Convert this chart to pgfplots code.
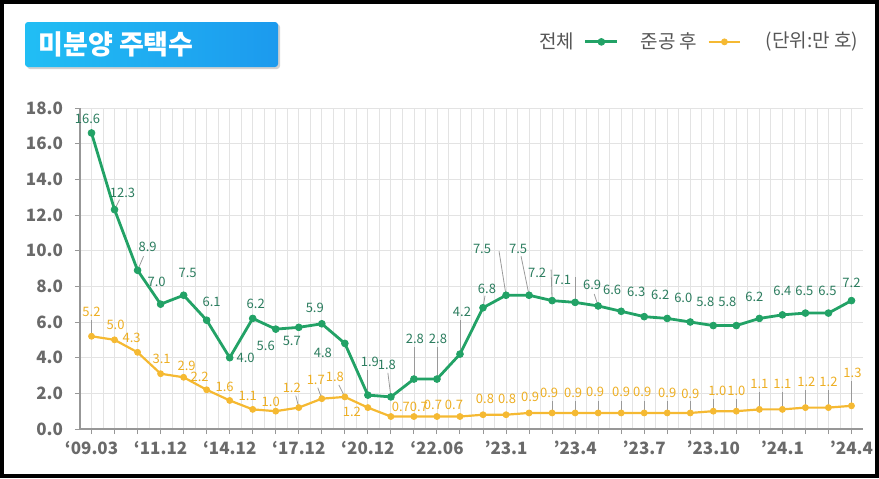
\documentclass[border=0pt]{standalone}
\usepackage{pgfplots}
\pgfplotsset{compat=1.18}
\usepackage{pgfplotstable}
\usepackage{fontspec}
\setmainfont{Noto Sans CJK KR}
\definecolor{gline}{HTML}{22A266}
\definecolor{glab}{HTML}{2B7C5E}
\definecolor{yline}{HTML}{F5B932}
\definecolor{ylab}{HTML}{EDAE22}
\definecolor{tickc}{HTML}{6A6A6A}
\definecolor{gridc}{HTML}{E3E3E3}
\definecolor{leadc}{HTML}{9A9A9A}
\definecolor{legc}{HTML}{555555}

% x y dx dy (label offset, px) lx ly (leader end, px)
\pgfplotstableread{
x y dx dy lx ly
0 16.6 -4 14 0 0
1 12.3 8 17 5 10
2 8.9 10 23 6 14
3 7.0 -4 22 0 0
4 7.5 4 22 0 0
5 6.1 5 18 0 0
6 4.0 16 0 0 0
7 6.2 3 15 0 0
8 5.6 -10 -17 0 0
9 5.7 -7 -14 0 0
10 5.9 -7 16 0 0
11 4.8 -22 -9 0 0
12 1.9 2 33 0 25
13 1.8 -4 32 -3 24
14 2.8 1 40 0 32
15 2.8 1 40 0 32
16 4.2 2 42 0 34
17 6.8 4 19 2 12
18 7.5 -24 46 -7 44
19 7.5 -11 46 -8 39
20 7.2 -15 28 -1 31
21 7.1 -13 22 0 25
22 6.9 -6 21 -4 12
23 6.6 -9 21 0 0
24 6.3 -8 25 0 0
25 6.2 -7 24 0 0
26 6.0 -7 24 0 0
27 5.8 -8 24 0 0
28 5.8 -9 24 0 0
29 6.2 -5 22 0 0
30 6.4 0 24 0 0
31 6.5 -1 22 0 0
32 6.5 -1 22 0 0
33 7.2 0 18 0 0
}\totaltab

\pgfplotstableread{
x y dx dy lx ly
0 5.2 0 24 0 16
1 5.0 1 15 0 0
2 4.3 -6 14 0 0
3 3.1 1 15 0 0
4 2.9 3 11 0 0
5 2.2 -7 13 0 0
6 1.6 -5 14 0 0
7 1.1 -5 13 0 0
8 1.0 -5 9 0 0
9 1.2 -7 20 -3 12
10 1.7 -6 19 -4 11
11 1.8 -10 20 -6 12
12 1.2 -16 -4 0 0
13 0.7 10 10 0 0
14 0.7 5 10 0 0
15 0.7 -4 12 0 0
16 0.7 -6 12 0 0
17 0.8 2 16 0 0
18 0.8 1 16 0 0
19 0.9 1 16 0 0
20 0.9 -3 20 0 12
21 0.9 -2 20 0 12
22 0.9 -3 21 0 12
23 0.9 0 21 0 12
24 0.9 -2 21 0 12
25 0.9 0 20 0 12
26 0.9 0 19 0 12
27 1.0 4 20 0 12
28 1.0 0 20 0 12
29 1.1 0 25 0 17
30 1.1 0 25 0 17
31 1.2 1 26 0 18
32 1.2 0 26 0 18
33 1.3 1 33 0 25
}\aftertab

\begin{document}
\begin{tikzpicture}
\useasboundingbox (-40pt,-24.5pt) rectangle (399.5pt,214.5pt);
\begin{axis}[
  at={(0pt,0pt)}, anchor=south west,
  scale only axis, width=391.5pt, height=160.5pt,
  xmin=-0.5, xmax=33.5, ymin=0, ymax=18,
  axis lines*=left,
  axis line style={draw=tickc!70, line width=0.7pt},
  ytick={0,2,...,18},
  xtick={0,...,33},
  xticklabels={{‘09.03},,,{‘11.12},,,{‘14.12},,,{‘17.12},,,{‘20.12},,,{‘22.06},,,{’23.1},,,{’23.4},,,{’23.7},,,{’23.10},,,{’24.1},,,{’24.4}},
  minor x tick num=1,
  xmajorgrids, xminorgrids, ymajorgrids,
  major grid style={draw=gridc, line width=0.4pt},
  minor grid style={draw=gridc, line width=0.4pt},
  tick align=outside, major tick length=2.5pt, minor tick length=0pt,
  tick style={draw=tickc!70, line width=0.5pt},
  /pgf/number format/assume math mode=true,
  yticklabel style={/pgf/number format/.cd, fixed, fixed zerofill, precision=1, /tikz/.cd, xshift=-2.5pt},
  ticklabel style={font=\fontsize{8.5}{10}\selectfont\bfseries, text=tickc},
  legend plot pos=right,
  legend columns=2,
  legend image code/.code={\draw[mark repeat=2,mark phase=2] plot coordinates {(0cm,0cm) (0.28cm,0cm) (0.56cm,0cm)};},
  legend style={at={(0.853,1.206)}, anchor=east, draw=none, fill=none,
    font=\fontsize{9.5}{11}\selectfont, text=legc,
    /tikz/every odd column/.append style={column sep=3pt},
    /tikz/every even column/.append style={column sep=9pt}},
  clip=false,
]
% leader lines
\addplot[forget plot, draw=leadc, line width=0.4pt, -,
  quiver={u=\thisrow{lx}/23.03, v=\thisrow{ly}/17.83}] table[x=x,y=y] {\totaltab};
\addplot[forget plot, draw=leadc, line width=0.4pt, -,
  quiver={u=\thisrow{lx}/23.03, v=\thisrow{ly}/17.83}] table[x=x,y=y] {\aftertab};
% lines
\addplot[draw=gline, line width=1.4pt, mark=*, mark size=1.7pt,
  mark options={fill=gline, draw=gline, line width=0.4pt}] table[x=x,y=y] {\totaltab};
\addlegendentry{전체}
\addplot[draw=yline, line width=1.1pt, mark=*, mark size=1.5pt,
  mark options={fill=yline, draw=yline, line width=0.4pt}] table[x=x,y=y] {\aftertab};
\addlegendentry{준공 후}
% labels
\addplot[forget plot, draw=none, mark=none, point meta=y,
  visualization depends on={\thisrow{dx} \as \ldx},
  visualization depends on={\thisrow{dy} \as \ldy},
  nodes near coords={\pgfmathprintnumber[fixed,fixed zerofill,precision=1]{\pgfplotspointmeta}},
  nodes near coords style={anchor=center, inner sep=0pt, xshift=\ldx*0.5pt, yshift=\ldy*0.5pt,
    font=\fontsize{6.5}{7}\selectfont, text=glab}] table[x=x,y=y] {\totaltab};
\addplot[forget plot, draw=none, mark=none, point meta=y,
  visualization depends on={\thisrow{dx} \as \ldx},
  visualization depends on={\thisrow{dy} \as \ldy},
  nodes near coords={\pgfmathprintnumber[fixed,fixed zerofill,precision=1]{\pgfplotspointmeta}},
  nodes near coords style={anchor=center, inner sep=0pt, xshift=\ldx*0.5pt, yshift=\ldy*0.5pt,
    font=\fontsize{6.5}{7}\selectfont, text=ylab}] table[x=x,y=y] {\aftertab};
\end{axis}
% title box
\fill[black!18, rounded corners=1.5pt] (-26.5pt,180pt) rectangle (100pt,202.5pt);
\shade[left color={rgb,255:red,33;green,190;blue,244}, right color={rgb,255:red,28;green,154;blue,238}, rounded corners=1.5pt]
  (-27.5pt,181pt) rectangle (99pt,203.5pt);
\node[anchor=west, text=white, font=\fontsize{13.5}{15}\selectfont\bfseries, inner sep=0pt] at (-21pt,192.25pt) {미분양 주택수};
\node[anchor=center, text=legc, font=\fontsize{9.5}{11}\selectfont, inner sep=0pt] at (366pt,193.5pt) {(단위:만 호)};
% frame
\draw[line width=2pt, black] (-39pt,-23.5pt) rectangle (398.5pt,213.5pt);
\end{tikzpicture}
\end{document}
